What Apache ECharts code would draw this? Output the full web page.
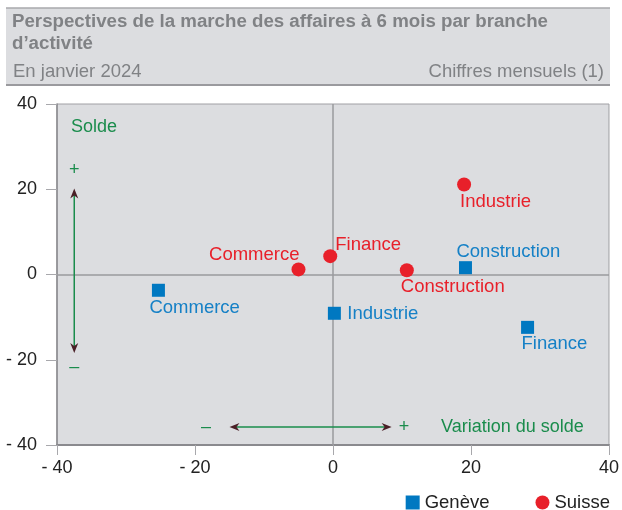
<!DOCTYPE html>
<html>
<head>
<meta charset="utf-8">
<script src="https://cdn.jsdelivr.net/npm/echarts@6/dist/echarts.min.js"></script>
<style>
  html, body { margin: 0; padding: 0; background: #fff; }
  #chart { width: 622px; height: 510px; }
</style>
</head>
<body>
<div id="chart"></div>
<script>
// data
const categories = ["Commerce", "Construction", "Finance", "Industrie"];
const genevaX = [-25.3, 19.2, 28.2, 0.2];
const genevaY = [-3.7, 1.6, -12.4, -9.1];
const suisseX = [-5.0, 10.7, -0.4, 19.0];
const suisseY = [1.2, 1.0, 4.3, 21.1];
const axisTicks = [-40, -20, 0, 20, 40];

// label placement: [align, dx, dy] from the marker centre
const genevaLabelPos = {
  Commerce: ["left", -9, 18],
  Construction: ["left", -9, -16],
  Finance: ["left", -6, 17],
  Industrie: ["left", 13, 1],
};
const suisseLabelPos = {
  Commerce: ["right", 1, -14],
  Construction: ["left", -6, 17],
  Finance: ["left", 5, -11],
  Industrie: ["left", -4, 17],
};

const FONT = "'Liberation Sans', Arial, sans-serif";
const BLUE = "#0078c1";
const RED = "#e8202a";
const GREEN = "#1a8c4c";
const HEAD = "#808285";

function buildPoints(xs, ys, placement, color) {
  return categories.map((name, i) => {
    const p = placement[name];
    return {
      name: name,
      value: [xs[i], ys[i]],
      label: {
        show: true,
        formatter: name,
        position: "inside",
        align: p[0],
        verticalAlign: "middle",
        offset: [p[1], p[2]],
        color: color,
        fontSize: 18.5,
        fontFamily: FONT,
      },
    };
  });
}

const fmtTick = (v) => (v < 0 ? "- " + Math.abs(v) : String(v));

const chart = echarts.init(document.getElementById("chart"));

const option = {
  animation: false,
  textStyle: { fontFamily: FONT },
  grid: {
    left: 57,
    right: 13,
    top: 104,
    bottom: 65,
    show: true,
    backgroundColor: "#dcdde0",
    borderColor: "#a0a0a4",
    borderWidth: 1,
  },
  xAxis: {
    type: "value",
    min: axisTicks[0],
    max: axisTicks[axisTicks.length - 1],
    interval: 20,
    axisLine: { onZero: false, lineStyle: { color: "#8a8a8e", width: 2 } },
    axisTick: { show: true, length: 10, lineStyle: { color: "#a8a8ac" } },
    splitLine: { show: false },
    axisLabel: { formatter: fmtTick, color: "#222", fontSize: 18, margin: 14, fontFamily: FONT },
  },
  yAxis: {
    type: "value",
    min: axisTicks[0],
    max: axisTicks[axisTicks.length - 1],
    interval: 20,
    axisLine: { show: true, onZero: false, lineStyle: { color: "#8a8a8e", width: 1.5 } },
    axisTick: { show: true, length: 11, lineStyle: { color: "#a8a8ac" } },
    splitLine: { show: false },
    axisLabel: { formatter: fmtTick, color: "#222", fontSize: 18, margin: 20, fontFamily: FONT },
  },
  legend: {
    right: 7,
    top: 488,
    itemGap: 46,
    itemWidth: 14,
    itemHeight: 14,
    textStyle: { color: "#222", fontSize: 18.5, fontFamily: FONT },
    data: [
      { name: "Genève", icon: "rect" },
      { name: "Suisse", icon: "circle" },
    ],
  },
  series: [
    {
      name: "Genève",
      type: "scatter",
      symbol: "rect",
      symbolSize: 13,
      itemStyle: { color: BLUE, opacity: 1 },
      data: buildPoints(genevaX, genevaY, genevaLabelPos, "#1580c6"),
      markLine: {
        silent: true,
        symbol: "none",
        label: { show: false },
        lineStyle: { color: "#9a9a9e", width: 1.5, type: "solid" },
        data: [{ xAxis: 0 }, { yAxis: 0 }],
        z: 1,
      },
      z: 3,
    },
    {
      name: "Suisse",
      type: "scatter",
      symbol: "circle",
      symbolSize: 14,
      itemStyle: { color: RED, opacity: 1 },
      data: buildPoints(suisseX, suisseY, suisseLabelPos, RED),
      z: 3,
    },
  ],
};

chart.setOption(option);

// header band and annotations
function arrowHead(tip, dir) {
  // dir: unit vector pointing toward the tip
  const [tx, ty] = tip;
  const [dx, dy] = dir;
  const px = -dy, py = dx;
  const back = 10, half = 4, notch = 7;
  return {
    type: "polygon",
    shape: {
      points: [
        [tx, ty],
        [tx - dx * back + px * half, ty - dy * back + py * half],
        [tx - dx * notch, ty - dy * notch],
        [tx - dx * back - px * half, ty - dy * back - py * half],
      ],
    },
    style: { fill: "#4a1f26" },
    z: 10,
  };
}

const toPx = (pt) => chart.convertToPixel({ gridIndex: 0 }, pt);
const vTop = toPx([-37.5, 20.2]);
const vBot = toPx([-37.5, -18.4]);
const hLeft = toPx([-15.0, -35.8]);
const hRight = toPx([8.5, -35.8]);

const greenText = (x, y, text, align) => ({
  type: "text",
  x: x,
  y: y,
  style: {
    text: text,
    fill: GREEN,
    font: "18px " + FONT,
    textAlign: align || "left",
    textVerticalAlign: "middle",
  },
  z: 10,
});

chart.setOption({
  graphic: [
    {
      type: "rect",
      shape: { x: 6, y: 8, width: 604, height: 77 },
      style: { fill: "#dcdde0" },
      z: 0,
    },
    { type: "line", shape: { x1: 6, y1: 8, x2: 610, y2: 8 }, style: { stroke: "#a8a8ac", lineWidth: 1.5 } },
    { type: "line", shape: { x1: 6, y1: 85, x2: 610, y2: 85 }, style: { stroke: "#9a9a9e", lineWidth: 2 } },
    {
      type: "text", x: 12, y: 22,
      style: { text: "Perspectives de la marche des affaires à 6 mois par branche", fill: HEAD, font: "bold 18.7px " + FONT, textVerticalAlign: "middle" },
    },
    {
      type: "text", x: 12, y: 44,
      style: { text: "d’activité", fill: HEAD, font: "bold 18.7px " + FONT, textVerticalAlign: "middle" },
    },
    {
      type: "text", x: 13, y: 72,
      style: { text: "En janvier 2024", fill: HEAD, font: "18.5px " + FONT, textVerticalAlign: "middle" },
    },
    {
      type: "text", x: 604, y: 72,
      style: { text: "Chiffres mensuels (1)", fill: HEAD, font: "18.5px " + FONT, textAlign: "right", textVerticalAlign: "middle" },
    },
    greenText(71, 127, "Solde"),
    greenText(vTop[0], 170, "+", "center"),
    greenText(vBot[0], 367, "–", "center"),
    greenText(206, hLeft[1], "–", "center"),
    greenText(404, hLeft[1], "+", "center"),
    greenText(441, hLeft[1], "Variation du solde"),
    {
      type: "line",
      shape: { x1: vTop[0], y1: vTop[1] + 4, x2: vBot[0], y2: vBot[1] - 4 },
      style: { stroke: GREEN, lineWidth: 1.5 },
      z: 9,
    },
    arrowHead(vTop, [0, -1]),
    arrowHead(vBot, [0, 1]),
    {
      type: "line",
      shape: { x1: hLeft[0] + 4, y1: hLeft[1], x2: hRight[0] - 4, y2: hRight[1] },
      style: { stroke: GREEN, lineWidth: 1.5 },
      z: 9,
    },
    arrowHead(hLeft, [-1, 0]),
    arrowHead(hRight, [1, 0]),
  ],
});
</script>
</body>
</html>
